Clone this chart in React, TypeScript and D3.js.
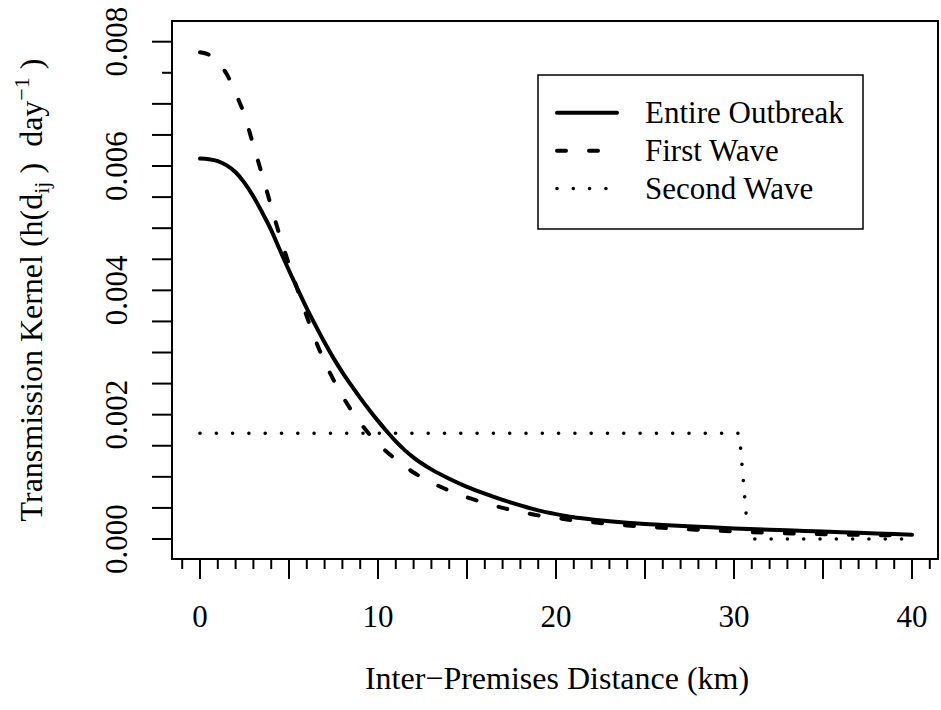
import React from "react";
import * as d3 from "d3";

// Distance grid (km) shared by the two kernel curves
const distanceKm = [
  0, 0.5, 1, 1.5, 2, 2.5, 3, 3.5, 4, 4.5, 5, 5.5, 6, 6.5, 7, 7.5, 8, 8.5, 9, 9.5, 10,
  10.5, 11, 11.5, 12, 13, 14, 15, 16, 17, 18, 19, 20, 21, 22, 23, 24, 25, 26, 28, 30, 32, 34, 36, 38, 40,
];

// Entire Outbreak kernel (per day)
const entireOutbreak = [
  0.00612, 0.00611, 0.00608, 0.00601, 0.0059, 0.00573, 0.00551, 0.00525, 0.00497, 0.00464, 0.00432,
  0.00401, 0.00371, 0.00343, 0.00316, 0.00291, 0.00268, 0.00247, 0.00227, 0.00208, 0.0019,
  0.00173, 0.00157, 0.00143, 0.00131, 0.00112, 0.00097, 0.00084, 0.00073, 0.00063, 0.00054, 0.00046,
  0.0004, 0.00035, 0.000315, 0.000285, 0.00026, 0.00024, 0.000225, 0.000197, 0.00017, 0.00015, 0.00013,
  0.00011, 0.00009, 0.00007,
];

// First Wave kernel (per day)
const firstWave = [
  0.00783, 0.00779, 0.00766, 0.00748, 0.00717, 0.00682, 0.00633, 0.00585, 0.00535, 0.00486, 0.00442,
  0.00399, 0.00358, 0.00319, 0.00285, 0.00256, 0.0023, 0.00207, 0.00187, 0.00169, 0.00153,
  0.0014, 0.00128, 0.00117, 0.00107, 0.00091, 0.00078, 0.00067, 0.00058, 0.0005, 0.00044, 0.00038,
  0.00034, 0.0003, 0.00027, 0.000243, 0.000218, 0.0002, 0.00018, 0.000148, 0.000122, 0.0001,
  0.000085, 0.000072, 0.000062, 0.000055,
];

// Second Wave kernel (step shape)
const secondWaveDistanceKm = [0, 30.3, 30.8, 40];
const secondWave = [0.0017, 0.0017, 0, 0];

const xTickLabels = [0, 10, 20, 30, 40];
const yTickLabels = [0, 0.002, 0.004, 0.006, 0.008];
const legendLabels = ["Entire Outbreak", "First Wave", "Second Wave"];

const FONT = "'Liberation Serif', 'Times New Roman', serif";

export default function App() {
  const W = 941;
  const H = 710;
  const box = { left: 172, right: 938, top: 21, bottom: 559 };
  const x = d3.scaleLinear().domain([0, 40]).range([200, 912]);
  const y = d3.scaleLinear().domain([0, 0.008]).range([539, 41.7]);

  const line = d3
    .line<[number, number]>()
    .x((d) => x(d[0]))
    .y((d) => y(d[1]))
    .curve(d3.curveMonotoneX);
  const stepLine = d3
    .line<[number, number]>()
    .x((d) => x(d[0]))
    .y((d) => y(d[1]));

  const entirePts = distanceKm.map((d, i) => [d, entireOutbreak[i]] as [number, number]);
  const firstPts = distanceKm.map((d, i) => [d, firstWave[i]] as [number, number]);
  const secondPts = secondWaveDistanceKm.map((d, i) => [d, secondWave[i]] as [number, number]);

  const xTicks = d3.range(-1, 42, 1);
  const yTicks = d3.range(0, 17).map((i) => i * 0.0005);

  const styles = [
    { dash: undefined as string | undefined, width: 4 },
    { dash: "9 23", width: 4 },
    { dash: "0 16.3", width: 3.6 },
  ];
  const legendRows = [112.7, 150.7, 188.5];

  return (
    <svg
      width={W}
      height={H}
      viewBox={`0 0 ${W} ${H}`}
      style={{ position: "absolute", left: 0, top: 0, background: "#fff" }}
      fontFamily={FONT}
    >
      <rect x={0} y={0} width={W} height={H} fill="#fff" />
      {/* curves */}
      <g fill="none" stroke="#000" strokeLinecap="round" strokeLinejoin="round">
        <path d={stepLine(secondPts) || ""} strokeWidth={styles[2].width} strokeDasharray={styles[2].dash} />
        <path d={line(firstPts) || ""} strokeWidth={styles[1].width} strokeDasharray={styles[1].dash} />
        <path d={line(entirePts) || ""} strokeWidth={styles[0].width} />
      </g>

      {/* plot box */}
      <rect
        x={box.left}
        y={box.top}
        width={box.right - box.left}
        height={box.bottom - box.top}
        fill="none"
        stroke="#000"
        strokeWidth={2}
      />

      {/* x ticks */}
      <g stroke="#000" strokeWidth={2}>
        {xTicks.map((t) => (
          <line key={t} x1={x(t)} x2={x(t)} y1={box.bottom} y2={box.bottom + (t % 5 === 0 ? 20 : 10)} />
        ))}
      </g>
      <g fontSize={31} textAnchor="middle" fill="#000">
        {xTickLabels.map((t) => (
          <text key={t} x={x(t)} y={627}>
            {t}
          </text>
        ))}
      </g>

      {/* y ticks */}
      <g stroke="#000" strokeWidth={2}>
        {yTicks.map((t, i) => (
          <line key={i} x1={box.left - (i === 15 ? 10 : 20)} x2={box.left} y1={y(t)} y2={y(t)} />
        ))}
      </g>
      <g fontSize={31} textAnchor="middle" fill="#000">
        {yTickLabels.map((t) => (
          <text key={t} transform={`translate(127,${y(t)}) rotate(-90)`}>
            {d3.format(".3f")(t)}
          </text>
        ))}
      </g>

      {/* axis titles */}
      <text x={(box.left + box.right) / 2 + 2} y={689} fontSize={32} textAnchor="middle" fill="#000">
        Inter−Premises Distance (km)
      </text>
      <text
        transform={`translate(42,${(box.top + box.bottom) / 2}) rotate(-90)`}
        fontSize={32}
        textAnchor="middle"
        fill="#000"
        style={{ whiteSpace: "pre" }}
      >
        Transmission Kernel (h(d
        <tspan fontSize={22} dy={7}>
          ij
        </tspan>
        <tspan dy={-7}>{" )  day"}</tspan>
        <tspan fontSize={22} dy={-13}>
          −1
        </tspan>
        <tspan dy={13}>{" )"}</tspan>
      </text>

      {/* legend */}
      <rect x={538} y={75} width={325} height={154} fill="#fff" stroke="#000" strokeWidth={1.5} />
      {legendLabels.map((lab, i) => (
        <g key={lab}>
          <line
            x1={557}
            x2={617}
            y1={legendRows[i]}
            y2={legendRows[i]}
            stroke="#000"
            strokeWidth={styles[i].width}
            strokeDasharray={styles[i].dash}
            strokeLinecap="round"
          />
          <text x={645} y={legendRows[i] + 10} fontSize={31} fill="#000">
            {lab}
          </text>
        </g>
      ))}
    </svg>
  );
}
